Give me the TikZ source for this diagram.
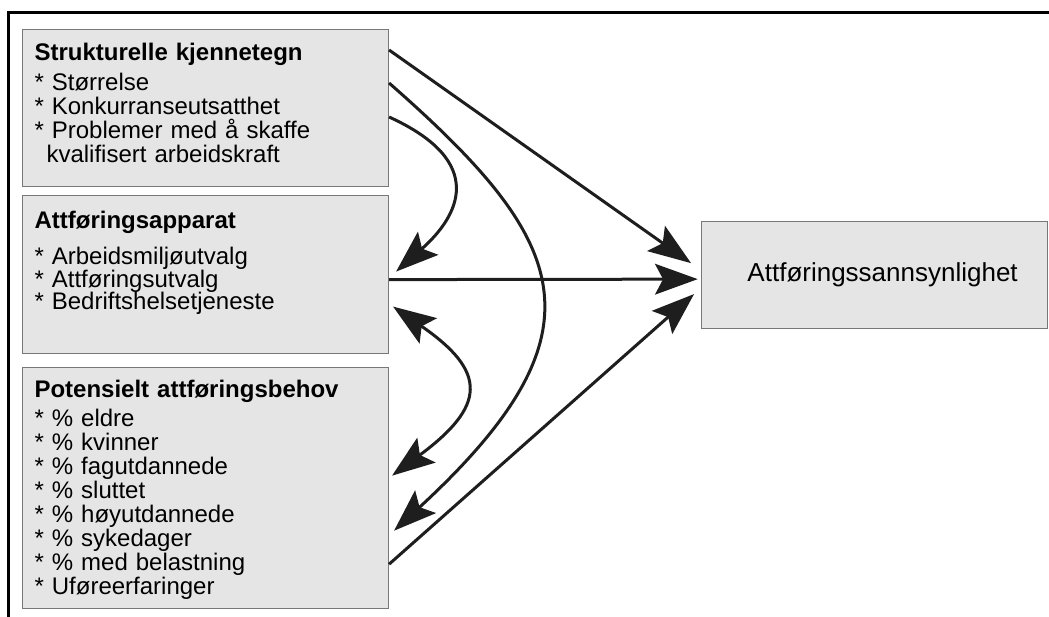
\documentclass[tikz,border=0pt]{standalone}
\usepackage{fontspec}
\setmainfont{Liberation Sans}
\usepackage{tikz}
\usetikzlibrary{arrows.meta, positioning}
\definecolor{boxfill}{RGB}{229, 229, 229}
\definecolor{boxedge}{RGB}{120, 120, 120}
\definecolor{linedark}{RGB}{30, 30, 30}

\begin{document}
\begin{tikzpicture}[
    x=0.75pt, y=-0.75pt,
    factorbox/.style={rectangle, draw=boxedge, fill=boxfill, line width=0.8pt, inner xsep=9pt, inner ysep=0pt, text width=256.5pt, align=left},
    goalbox/.style={rectangle, draw=boxedge, fill=boxfill, line width=0.8pt, minimum width=259.5pt, minimum height=80.25pt, font=\fontsize{19.5}{22}\selectfont},
    arrow/.style={-{Stealth[length=32pt, width=23pt, inset=6pt]}, line width=2.25pt, linedark},
    twoway/.style={{Stealth[length=32pt, width=23pt, inset=6pt]}-{Stealth[length=32pt, width=23pt, inset=6pt]}, line width=2.25pt, linedark}
]
    \useasboundingbox (0,0) rectangle (1049,617);
    % Frame
    \draw[line width=2.25pt, black] (8.7,617) -- (8.7,12.5) -- (1049,12.5);

    % Nodes
    \node[factorbox, anchor=north west, text height=23.25pt, text depth=94.5pt, font={\fontsize{18}{18}\selectfont\lineskiplimit=-20pt}] (strukt) at (22,29) {\textbf{Strukturelle kjennetegn}\\[4.5pt]
        {*} Størrelse\\ {*} Konkurranseutsatthet\\ {*} Problemer med å skaffe\\ \hspace*{9pt}kvalifisert arbeidskraft};
    \node[factorbox, below=6pt of strukt, text height=24.75pt, text depth=93.75pt, font={\fontsize{18}{16.9}\selectfont\lineskiplimit=-20pt}] (apparat) {\textbf{Attføringsapparat}\\[10.1pt]
        {*} Arbeidsmiljøutvalg\\ {*} Attføringsutvalg\\ {*} Bedriftshelsetjeneste};
    \node[factorbox, below=9.75pt of apparat, text height=22.5pt, text depth=158.25pt, font={\fontsize{18}{18}\selectfont\lineskiplimit=-20pt}] (behov) {\textbf{Potensielt attføringsbehov}\\[3.75pt]
        {*} \% eldre\\ {*} \% kvinner\\ {*} \% fagutdannede\\ {*} \% sluttet\\ {*} \% høyutdannede\\ {*} \% sykedager\\ {*} \% med belastning\\ {*} Uføreerfaringer};
    \node[goalbox, right=234pt of apparat] (sannsyn) {\hspace{12pt}Attføringssannsynlighet};

    % Paths
    \draw[arrow] ([yshift=-15.75pt]strukt.north east) -- ([xshift=-7.5pt, yshift=8.6pt]sannsyn.west);
    \draw[arrow] ([yshift=-3.75pt]apparat.east) -- ([xshift=-2.5pt, yshift=-3.4pt]sannsyn.west);
    \draw[arrow] ([yshift=33.75pt]behov.south east) -- ([xshift=-5.25pt, yshift=-14.6pt]sannsyn.west);
    \draw[arrow] ([yshift=-40.5pt]strukt.north east) .. controls (568,240) and (612,330) .. ([xshift=3.75pt, yshift=-31.9pt]behov.east);
    \draw[arrow] ([yshift=-66pt]strukt.north east) .. controls (488,162) and (459,216) .. ([xshift=5.25pt, yshift=2.25pt]apparat.east);
    \draw[twoway] ([xshift=3pt, yshift=-24pt]apparat.east) .. controls (488,372) and (486,406) .. ([xshift=2.25pt, yshift=9.4pt]behov.east);
\end{tikzpicture}
\end{document}
